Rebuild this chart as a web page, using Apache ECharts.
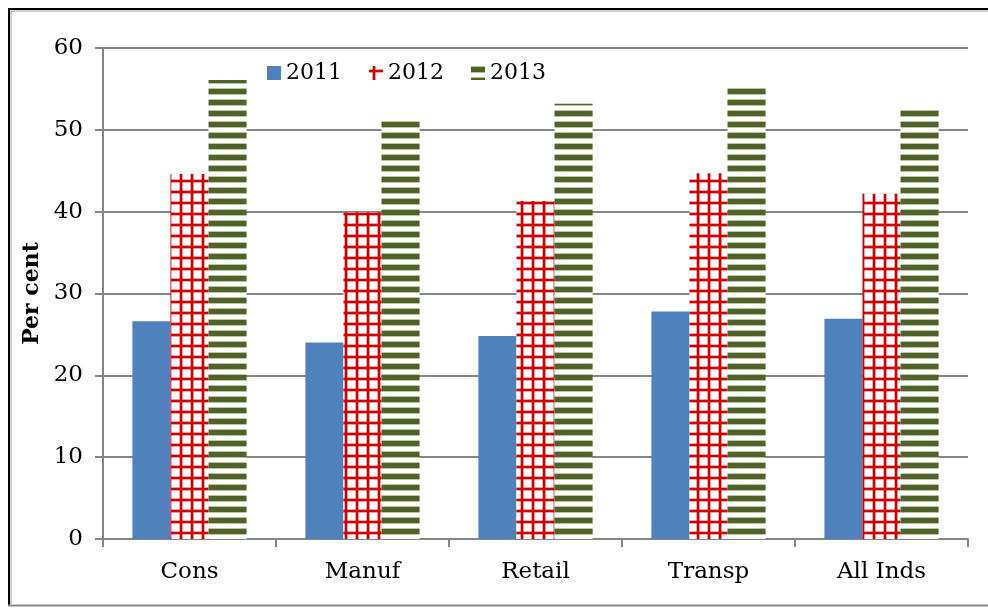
<!DOCTYPE html>
<html><head><meta charset="utf-8">
<script src="https://cdn.jsdelivr.net/npm/echarts@6/dist/echarts.min.js"></script>
<style>html,body{margin:0;padding:0;background:#fff}#c{width:988px;height:608px}</style>
</head><body><div id="c"></div>
<script>
const categories = ['Cons', 'Manuf', 'Retail', 'Transp', 'All Inds'];
const s2011 = [26.6, 24.0, 24.8, 27.8, 26.9];
const s2012 = [44.6, 39.9, 41.3, 44.7, 42.2];
const s2013 = [56.1, 51.1, 53.2, 55.2, 52.6];
const yTicks = [0, 10, 20, 30, 40, 50, 60];

function gridPattern() {
  const c = document.createElement('canvas');
  c.width = 11; c.height = 11;
  const g = c.getContext('2d');
  g.fillStyle = '#ffffff'; g.fillRect(0, 0, 11, 11);
  g.fillStyle = 'rgba(204,0,0,0.35)';
  g.fillRect(3, 0, 4, 11); g.fillRect(0, 3, 11, 4);
  g.fillStyle = '#d40000';
  g.fillRect(4, 0, 2, 11); g.fillRect(0, 4, 11, 2);
  return c;
}
function stripePattern() {
  const c = document.createElement('canvas');
  c.width = 8; c.height = 11;
  const g = c.getContext('2d');
  g.fillStyle = '#ffffff'; g.fillRect(0, 0, 8, 11);
  g.fillStyle = '#b9c4a4'; g.fillRect(0, 0, 8, 7);
  g.fillStyle = '#4f6228'; g.fillRect(0, 1, 8, 5);
  return c;
}
const font = '"DejaVu Serif", "Liberation Serif", serif';
const chart = echarts.init(document.getElementById('c'), null, {renderer: 'canvas'});
chart.setOption({
  animation: false,
  backgroundColor: '#fff',
  textStyle: {fontFamily: font},
  grid: {left: 103, right: 20, top: 48, bottom: 69, containLabel: false},
  legend: {
    top: 57, left: 262, itemGap: 27, itemWidth: 14, itemHeight: 14,
    textStyle: {fontFamily: font, fontSize: 22, color: '#000'},
    data: [
      {name: '2011', icon: 'rect'},
      {name: '2012', icon: 'rect'},
      {name: '2013', icon: 'rect'}
    ]
  },
  xAxis: {
    type: 'category', data: categories,
    axisLine: {lineStyle: {color: '#868686', width: 2}},
    axisTick: {show: true, length: 8, lineStyle: {color: '#868686', width: 2}},
    axisLabel: {fontFamily: font, fontSize: 23, color: '#000', margin: 22}
  },
  yAxis: {
    type: 'value', min: 0, max: 60, interval: 10,
    name: 'Per cent', nameLocation: 'middle', nameGap: 60, nameRotate: 90,
    nameTextStyle: {fontFamily: font, fontSize: 22, fontWeight: 'bold', color: '#000'},
    axisLine: {show: true, lineStyle: {color: '#868686', width: 2}},
    axisTick: {show: true, length: 8, lineStyle: {color: '#868686', width: 2}},
    axisLabel: {fontFamily: font, fontSize: 23, color: '#000', margin: 20,
      formatter: v => yTicks.includes(v) ? String(v) : ''},
    splitLine: {lineStyle: {color: '#868686', width: 2}}
  },
  series: [
    {name: '2011', type: 'bar', data: s2011, barGap: '0%', barCategoryGap: '34%',
      itemStyle: {color: '#4f81bd'}},
    {name: '2012', type: 'bar', data: s2012,
      itemStyle: {color: {image: gridPattern(), repeat: 'repeat'}}},
    {name: '2013', type: 'bar', data: s2013,
      itemStyle: {color: {image: stripePattern(), repeat: 'repeat'}}}
  ],
  graphic: [
    {type: 'line', shape: {x1: 8, y1: 9, x2: 988, y2: 9}, style: {stroke: '#000', lineWidth: 2}},
    {type: 'line', shape: {x1: 9, y1: 8, x2: 9, y2: 606}, style: {stroke: '#000', lineWidth: 2}},
    {type: 'line', shape: {x1: 11, y1: 11, x2: 988, y2: 11}, style: {stroke: '#999', lineWidth: 1}},
    {type: 'line', shape: {x1: 11, y1: 11, x2: 11, y2: 604}, style: {stroke: '#999', lineWidth: 1}},
    {type: 'line', shape: {x1: 8, y1: 605.5, x2: 988, y2: 605.5}, style: {stroke: '#888', lineWidth: 2}}
  ]
});
</script></body></html>
